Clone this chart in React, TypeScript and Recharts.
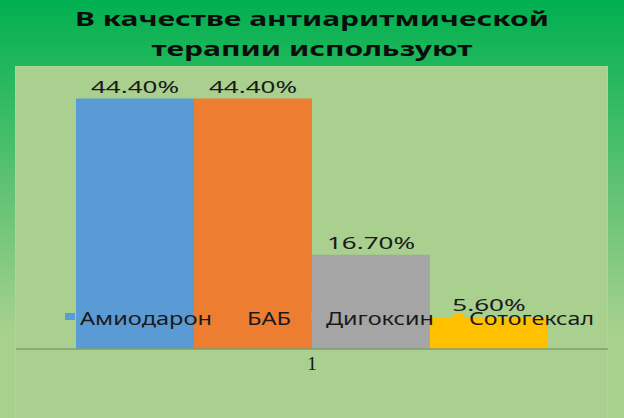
import React from "react";
import { BarChart, Bar, XAxis, YAxis, Legend, LabelList } from "recharts";

// data
const categories = ["1"];
const seriesNames = ["Амиодарон", "БАБ", "Дигоксин", "Сотогексал"];
const seriesKeys = ["amio", "bab", "digo", "soto"];
const seriesValues = [0.444, 0.444, 0.167, 0.056];
const COLORS = ["#5b9bd5", "#ed7d31", "#a5a5a5", "#ffc000"];

const titleLines = ["В качестве антиаритмической", "терапии используют"];

// layout (horizontally stretched text like the original)
const TITLE_WIDTHS = [474, 321];
const LEGEND_TEXT_WIDTHS = [132, 44, 108, 125];
const FONT = "'Noto Sans', 'Open Sans', sans-serif";

const data = categories.map((name) => {
  const row: Record<string, any> = { name };
  seriesKeys.forEach((k, i) => {
    row[k] = seriesValues[i];
  });
  return row;
});

const fmt = (v: number) => (v * 100).toFixed(2) + "%";

const renderLabel = (props: any) => {
  const { x, y, width, value } = props;
  const text = fmt(Number(value));
  return (
    <text
      x={Number(x) + Number(width) / 2}
      y={Number(y) - 6}
      textAnchor="middle"
      fontSize={16}
      fontFamily={FONT}
      fill="#1a1a1a"
      textLength={text.length * 14.7}
      lengthAdjust="spacingAndGlyphs"
    >
      {text}
    </text>
  );
};

const CustomLegend = () => {
  let cx = 65;
  const items = seriesNames.map((name, i) => {
    const mx = cx;
    cx += 15 + LEGEND_TEXT_WIDTHS[i] + 20;
    return (
      <g key={name}>
        <rect x={mx} y={9} width={10} height={7} fill={COLORS[i]} />
        <text
          x={mx + 15}
          y={21}
          fontSize={18}
          fontFamily={FONT}
          fill="#1a1a1a"
          textLength={LEGEND_TEXT_WIDTHS[i]}
          lengthAdjust="spacingAndGlyphs"
        >
          {name}
        </text>
      </g>
    );
  });
  return (
    <svg width={624} height={30} style={{ display: "block" }}>
      {items}
    </svg>
  );
};

export default function App() {
  return (
    <div
      style={{
        position: "relative",
        width: 624,
        height: 418,
        overflow: "hidden",
        background: "linear-gradient(to bottom, #00b050 0%, #a9d18e 80%, #a9d18e 100%)",
      }}
    >
      <style>{`body{margin:0}`}</style>
      <div
        style={{
          position: "absolute",
          left: 15,
          top: 66,
          width: 591,
          height: 360,
          background: "#a9d08e",
          border: "1px solid #b0d597",
        }}
      />
      <svg width={624} height={66} style={{ position: "absolute", left: 0, top: 0 }}>
        {titleLines.map((line, i) => (
          <text
            key={line}
            x={312}
            y={26 + i * 30}
            textAnchor="middle"
            fontSize={20}
            fontWeight="bold"
            fontFamily={FONT}
            fill="#0d0d0d"
            textLength={TITLE_WIDTHS[i]}
            lengthAdjust="spacingAndGlyphs"
          >
            {line}
          </text>
        ))}
      </svg>
      <div style={{ position: "absolute", left: 0, top: 0 }}>
        <BarChart
          width={624}
          height={418}
          data={data}
          margin={{ top: 67, right: 16, bottom: 0, left: 16 }}
          barCategoryGap={60}
          barGap={0}
        >
          <XAxis
            dataKey="name"
            height={69}
            tickLine={false}
            axisLine={{ stroke: "#7f9f6c", strokeWidth: 1.5 }}
            tick={{ fill: "#111", fontSize: 19, fontFamily: "'Liberation Serif', serif" }}
          />
          <YAxis hide domain={[0, 0.5]} />
          <Legend
            layout="horizontal"
            verticalAlign="middle"
            align="center"
            content={<CustomLegend />}
            wrapperStyle={{ top: 304, left: 0, width: 624, height: 30 }}
          />
          {seriesKeys.map((k, i) => (
            <Bar key={k} dataKey={k} name={seriesNames[i]} fill={COLORS[i]} isAnimationActive={false}>
              <LabelList dataKey={k} content={renderLabel} />
            </Bar>
          ))}
        </BarChart>
      </div>
    </div>
  );
}
